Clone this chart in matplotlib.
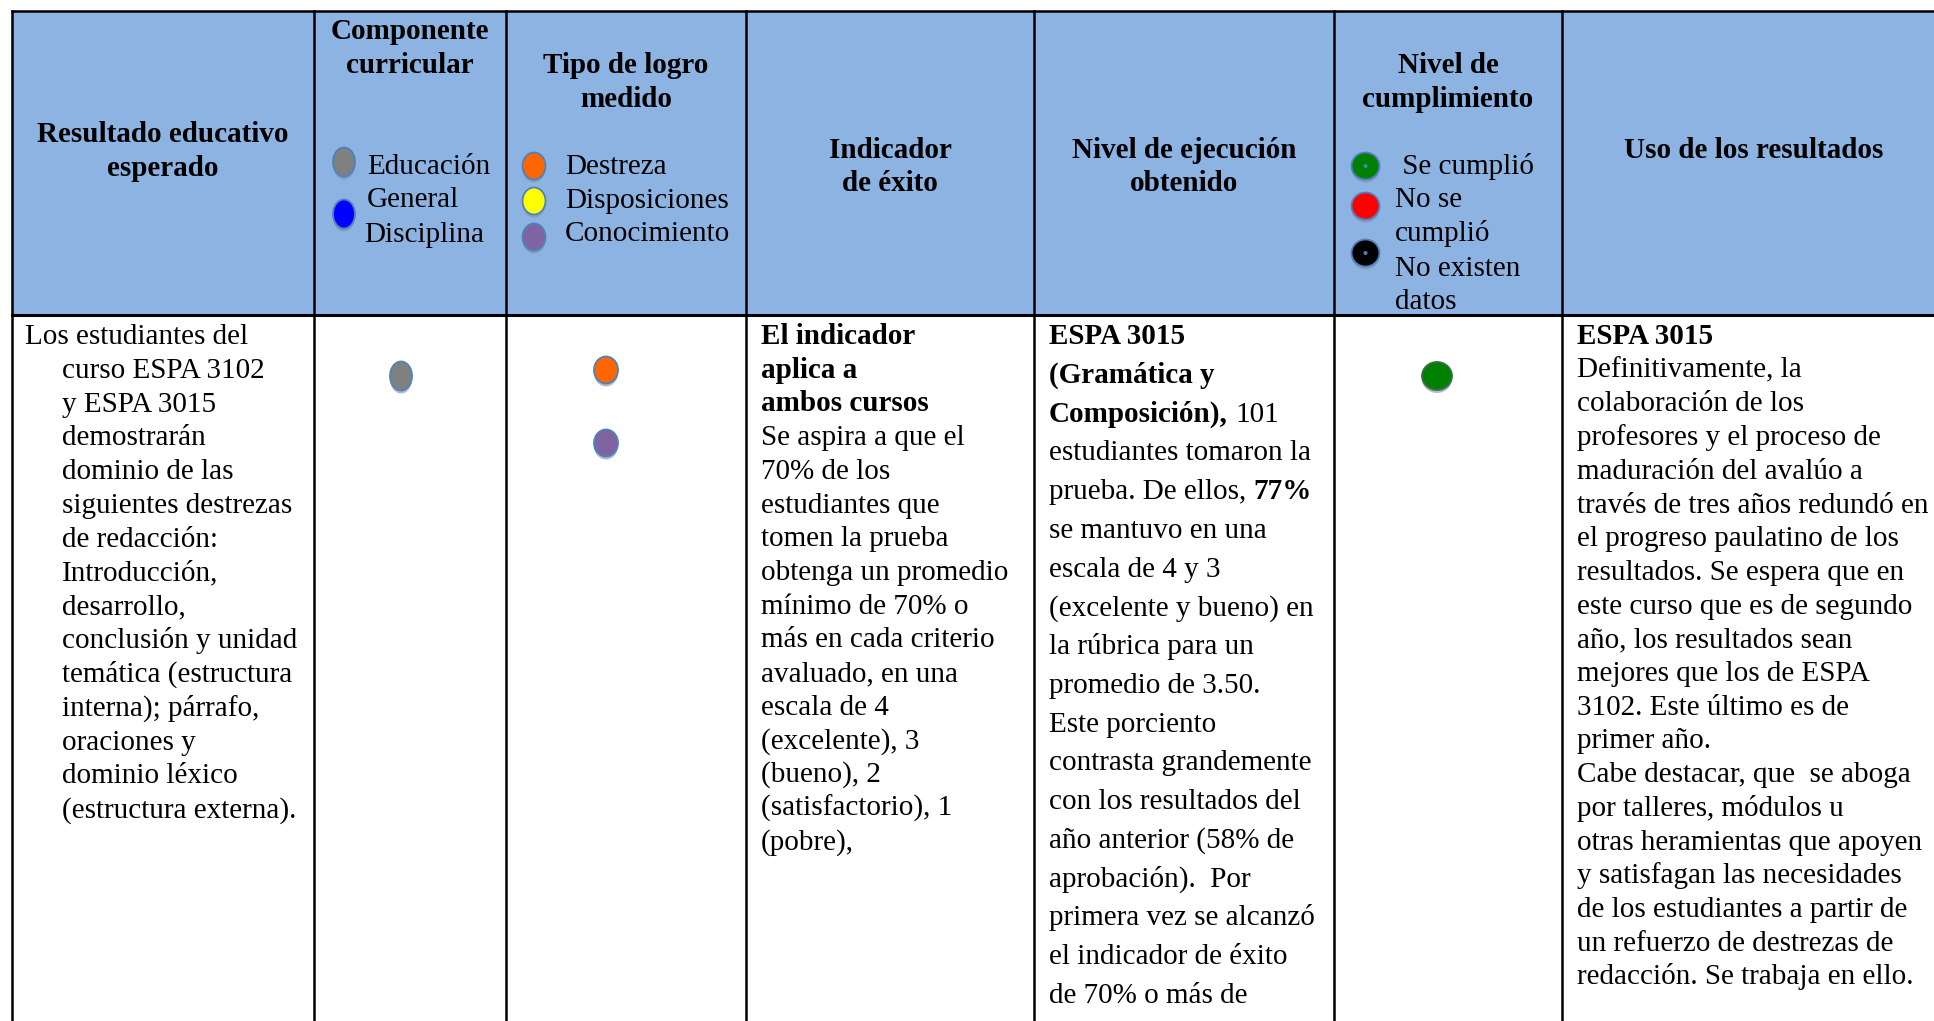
import matplotlib.pyplot as plt
from matplotlib.patches import Ellipse, Rectangle

# encabezados de la tabla
encabezados = [
    ["Resultado educativo", "esperado"],
    ["Componente", "curricular"],
    ["Tipo de logro", "medido"],
    ["Indicador", "de éxito"],
    ["Nivel de ejecución", "obtenido"],
    ["Nivel de", "cumplimiento"],
    ["Uso de los resultados"],
]

# leyendas dentro del encabezado
componente_labels = ["Educación", "General", "Disciplina"]
componente_colores = ["#808080", "#0000FF"]
logro_labels = ["Destreza", "Disposiciones", "Conocimiento"]
logro_colores = ["#FF6600", "#FFFF00", "#8064A2"]
cumplimiento_labels = [" Se cumplió", "No se", "cumplió", "No existen", "datos"]
cumplimiento_colores = ["#008000", "#FF0000", "#000000"]

# marcas de la fila
fila_componente = ["#808080"]
fila_logro = ["#FF6600", "#8064A2"]
fila_cumplimiento = ["#008000"]

resultado = [
    "Los estudiantes del", "curso ESPA 3102", "y ESPA 3015", "demostrarán",
    "dominio de las", "siguientes destrezas", "de redacción:", "Introducción,",
    "desarrollo,", "conclusión y unidad", "temática (estructura",
    "interna); párrafo,", "oraciones y", "dominio léxico", "(estructura externa).",
]

indicador = [
    [("El indicador", True)], [("aplica a", True)], [("ambos cursos", True)],
    [("Se aspira a que el", False)], [("70% de los", False)],
    [("estudiantes que", False)], [("tomen la prueba", False)],
    [("obtenga un promedio", False)], [("mínimo de 70% o", False)],
    [("más en cada criterio", False)], [("avaluado, en una", False)],
    [("escala de 4", False)], [("(excelente), 3", False)],
    [("(bueno), 2", False)], [("(satisfactorio), 1", False)],
    [("(pobre),", False)],
]

ejecucion = [
    [("ESPA 3015", True)], [("(Gramática y", True)],
    [("Composición),", True), (" 101", False)],
    [("estudiantes tomaron la", False)],
    [("prueba. De ellos,", False), (" 77%", True)],
    [("se mantuvo en una", False)], [("escala de 4 y 3", False)],
    [("(excelente y bueno) en", False)], [("la rúbrica para un", False)],
    [("promedio de 3.50.", False)], [("Este porciento", False)],
    [("contrasta grandemente", False)], [("con los resultados del", False)],
    [("año anterior (58% de", False)], [("aprobación).  Por", False)],
    [("primera vez se alcanzó", False)], [("el indicador de éxito", False)],
    [("de 70% o más de", False)],
]

uso = [
    [("ESPA 3015", True)], [("Definitivamente, la", False)],
    [("colaboración de los", False)], [("profesores y el proceso de", False)],
    [("maduración del avalúo a", False)],
    [("través de tres años redundó en", False)],
    [("el progreso paulatino de los", False)],
    [("resultados. Se espera que en", False)],
    [("este curso que es de segundo", False)],
    [("año, los resultados sean", False)], [("mejores que los de ESPA", False)],
    [("3102. Este último es de", False)], [("primer año.", False)],
    [("Cabe destacar, que  se aboga", False)], [("por talleres, módulos u", False)],
    [("otras heramientas que apoyen", False)],
    [("y satisfagan las necesidades", False)],
    [("de los estudiantes a partir de", False)],
    [("un refuerzo de destrezas de", False)],
    [("redacción. Se trabaja en ello.", False)],
]

W, H = 1934, 1021
plt.rcParams['font.family'] = ['Liberation Serif', 'DejaVu Serif']
FS = 21
AZUL = "#8DB3E2"
BORDE = "#4F81BD"

fig = plt.figure(figsize=(W / 100, H / 100), dpi=100)
ax = fig.add_axes([0, 0, 1, 1])
ax.set_xlim(0, W)
ax.set_ylim(H, 0)
ax.axis('off')
renderer = fig.canvas.get_renderer()

col_x = [11.5, 314, 506, 746, 1034, 1334, 1562, 1946]
top, head_bot = 11, 315

ax.add_patch(Rectangle((col_x[0], top), W, head_bot - top, color=AZUL, zorder=0))
ax.plot([col_x[0], W + 20], [top, top], color='black', lw=1.8)
ax.plot([col_x[0], W + 20], [head_bot, head_bot], color='black', lw=2.2)
for x in col_x:
    ax.plot([x, x], [top, H + 20], color='black', lw=1.8)


def txt(x, y, s, bold=False, ha='left'):
    return ax.text(x, y + 10, s, fontsize=FS, ha=ha, va='baseline',
                   fontweight='bold' if bold else 'normal')


def linea(x, y, segs):
    for s, bold in segs:
        if s.startswith(' '):
            x += 7.3
            s = s.lstrip()
        t = txt(x, y, s, bold)
        x += t.get_window_extent(renderer).width


def punto(x, y, color, w=22, h=29, centro=False, borde=BORDE):
    ax.add_patch(Ellipse((x, y + 3), w, h, color='#7F8FA6', alpha=0.6, lw=0))
    ax.add_patch(Ellipse((x, y), w, h, facecolor=color, edgecolor=borde, lw=1.3))
    if centro:
        ax.add_patch(Ellipse((x, y), 4, 4, color=BORDE, lw=0))


# encabezados
enc_y = [[132, 166], [29, 63], [63, 97], [148, 181], [148, 181], [63, 97], [148]]
for i, lineas in enumerate(encabezados):
    cx = (col_x[i] + col_x[i + 1]) / 2
    for s, y in zip(lineas, enc_y[i]):
        txt(cx, y, s, bold=True, ha='center')

# leyenda componente
for s, (x, y) in zip(componente_labels, [(367, 164), (367, 197), (364, 232)]):
    txt(x, y, s)
for c, y in zip(componente_colores, [162, 214]):
    punto(344, y, c)

# leyenda tipo de logro
for s, y in zip(logro_labels, [164, 198, 231]):
    txt(565, y, s)
for c, y in zip(logro_colores, [166, 201, 237]):
    punto(534, y, c, w=23, h=27)

# leyenda cumplimiento
for s, y in zip(cumplimiento_labels, [164, 197, 231, 266, 299]):
    txt(1395, y, s)
for c, y, ct in zip(cumplimiento_colores, [166, 206, 253], [True, False, True]):
    punto(1365.5, y, c, w=28, h=27, centro=ct)

# fila de datos
txt(25, 334, resultado[0])
for k, s in enumerate(resultado[1:], start=1):
    txt(62, 334 + 33.8 * k, s)

for k, segs in enumerate(indicador):
    linea(761, 334 + 33.7 * k, segs)
for k, segs in enumerate(ejecucion):
    linea(1049, 334 + 38.75 * k, segs)
for k, segs in enumerate(uso):
    linea(1577, 334 + 33.7 * k, segs)

for c in fila_componente:
    punto(401, 376, c)
for c, y in zip(fila_logro, [370, 443]):
    punto(606, y, c, w=24, h=27)
for c in fila_cumplimiento:
    punto(1437, 376, c, w=30, h=28, borde='#3C6E4A')

fig.savefig('out.png', dpi=100)
